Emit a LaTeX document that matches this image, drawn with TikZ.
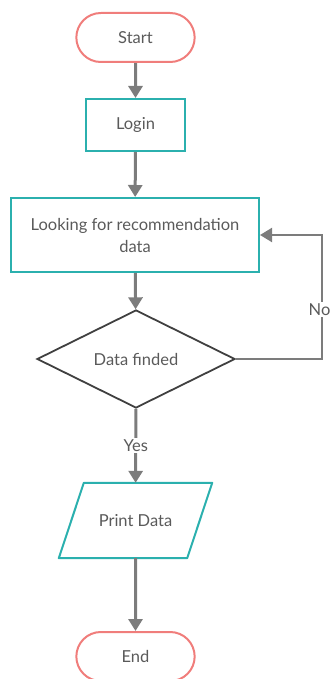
\documentclass[tikz,border=0pt]{standalone}
\usepackage{fontspec}
\setmainfont{Lato}
\usetikzlibrary{arrows.meta,shapes.geometric,shapes.misc}

\definecolor{saumon}{HTML}{F07D7B}
\definecolor{sarcelle}{HTML}{2BB0AE}
\definecolor{gristxt}{HTML}{5A5A5A}
\definecolor{grisfl}{HTML}{7C7C7C}

\tikzset{debut/.style = {rounded rectangle, draw=saumon, line width=2pt,
                         minimum width=125pt, minimum height=49pt},
         boite/.style = {rectangle, draw=sarcelle, line width=2pt},
         decis/.style = {diamond, draw=black!75, line width=1.8pt, aspect=2.02,
                         minimum width=198pt, minimum height=98pt, inner sep=0pt},
         paral/.style = {rectangle, minimum width=128pt, minimum height=75pt},
         fl/.style = {draw=grisfl, line width=3pt, -{Triangle[width=14pt,length=12pt]}},
         etiq/.style = {fill=white, inner sep=1.5pt}
        }

\begin{document}
\begin{tikzpicture}[x=1pt, y=-1pt, every node/.style={text=gristxt, font=\fontsize{16.5}{22}\selectfont, align=center}]
\useasboundingbox (0,0) rectangle (331,679);
\node[debut] (start) at (135.5,37.5) {Start};
\node[boite, minimum width=99pt, minimum height=52pt] (login) at (135.5,125) {Login};
\node[boite, minimum width=248pt, minimum height=74pt] (look) at (135,235) {Looking for recommendation\\data};
\node[decis] (data) at (136,359) {Data finded};
\node[paral] (print) at (135.5,520.5) {Print Data};
\draw[sarcelle, line width=2pt, line join=round]
   ([xshift=12.5pt]print.north west) -- ([xshift=12.5pt]print.north east)
   -- ([xshift=-12.5pt]print.south east) -- ([xshift=-12.5pt]print.south west) -- cycle;
\node[debut] (end) at (135.5,656.5) {End};
\coordinate (boucle) at (322,359);
\foreach \a/\b in {start/login, login/look, look/data, print/end}
   \draw[fl] (\a) -- (\b);
\draw[fl] (data) -- node[etiq] {Yes} (print);
\draw[fl, line width=2pt] (data.east) -- (boucle) |- node[etiq, pos=0.2, xshift=-2.5pt] {No} (look.east);
\end{tikzpicture}
\end{document}
